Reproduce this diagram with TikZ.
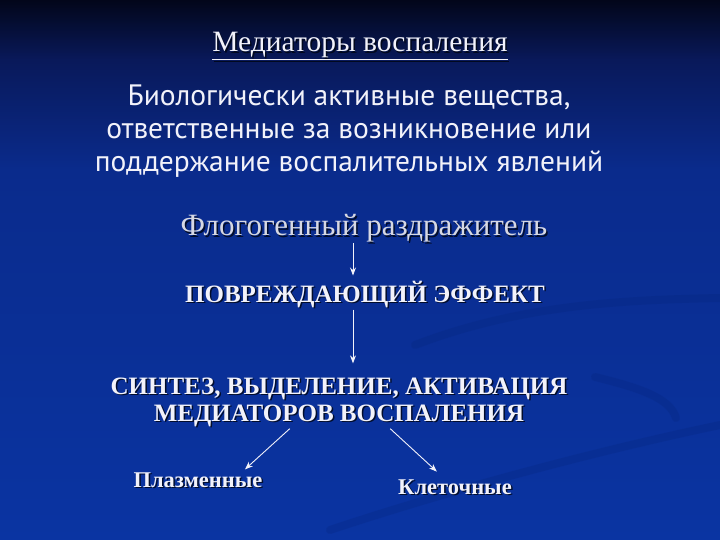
\documentclass[tikz,border=0pt]{standalone}
\usepackage{fontspec}
\setmainfont{Liberation Serif}
\newfontfamily\bodyfont{PT Sans}
\usetikzlibrary{arrows.meta}
\definecolor{bgtop}{HTML}{02061A}
\definecolor{bgup}{HTML}{09195A}
\definecolor{bgmid}{HTML}{0A2B8C}
\definecolor{bgbot}{HTML}{0A34A2}
\definecolor{swoosh}{HTML}{06247A}
\definecolor{txt}{HTML}{F2F2FA}
\definecolor{soft}{HTML}{D6D8E4}
\definecolor{shade}{HTML}{000512}
\tikzset{
  head/.style={text=txt, inner sep=0pt, font=\fontsize{29.5}{32}\selectfont},
  body/.style={text=txt, inner sep=0pt, align=center, font=\bodyfont\fontsize{29.5}{33}\selectfont},
  flogo/.style={text=soft, inner sep=0pt, font=\fontsize{31}{34}\selectfont},
  caps/.style={text=txt, inner sep=0pt, align=center, font=\bfseries\fontsize{25}{27}\selectfont},
  kind/.style={text=txt, inner sep=0pt, font=\bfseries\fontsize{22.5}{24}\selectfont},
  shad/.style={text=shade, opacity=0.8, shift={(1.5,1.5)}},
  arr/.style={draw=txt, line width=0.9pt, -{Stealth[length=8pt,width=6pt]}},
  band/.style={draw=swoosh, line width=8pt, line cap=round, opacity=0.25},
}

\begin{document}
\begin{tikzpicture}[x=1pt,y=-1pt]
  % background
  \useasboundingbox (0,0) rectangle (720,540);
  \shade[top color=bgtop, bottom color=bgup] (0,0) rectangle (720,60);
  \shade[top color=bgup, bottom color=bgmid] (0,60) rectangle (720,170);
  \shade[top color=bgmid, bottom color=bgbot] (0,170) rectangle (720,540);
  \draw[band] (415,345) .. controls (520,305) and (620,300) .. (720,298);
  \draw[band] (595,377) .. controls (640,388) and (670,398) .. (676,418);
  \draw[band] (330,530) .. controls (450,490) and (600,450) .. (720,425);

  % texts
  \node[head, shad, anchor=base] at (360,52) {\underline{Медиаторы воспаления}};
  \node[head, anchor=base] (title) at (360,52) {\underline{Медиаторы воспаления}};
  \node[body] (bio) at (349,131) {Биологически активные вещества,\\
    ответственные за возникновение или\\поддержание воспалительных явлений};
  \node[flogo, shad, anchor=base] at (364,236) {Флогогенный раздражитель};
  \node[flogo, anchor=base] (flog) at (364,236) {Флогогенный раздражитель};
  \node[caps, shad, anchor=base] at (365,302) {ПОВРЕЖДАЮЩИЙ ЭФФЕКТ};
  \node[caps, anchor=base] (dmg) at (365,302) {ПОВРЕЖДАЮЩИЙ ЭФФЕКТ};
  \node[caps, shad] at (339,402) {СИНТЕЗ, ВЫДЕЛЕНИЕ, АКТИВАЦИЯ\\МЕДИАТОРОВ ВОСПАЛЕНИЯ};
  \node[caps] (syn) at (339,402) {СИНТЕЗ, ВЫДЕЛЕНИЕ, АКТИВАЦИЯ\\МЕДИАТОРОВ ВОСПАЛЕНИЯ};
  \node[kind, shad, anchor=base] at (198,487) {Плазменные};
  \node[kind, anchor=base] (plasma) at (198,487) {Плазменные};
  \node[kind, shad, anchor=base] at (455,494) {Клеточные};
  \node[kind, anchor=base] (cell) at (455,494) {Клеточные};

  % arrows
  \coordinate (axis) at (353,0);
  \draw[arr, shorten >=5pt] (flog.south -| axis) -- (dmg.north -| axis);
  \draw[arr, shorten <=2pt, shorten >=14pt] (dmg.south -| axis) -- (syn.north -| axis);
  \draw[arr, shorten <=3pt, shorten >=4pt] ([xshift=-47pt]syn.south) -- ([xshift=44pt]plasma.north);
  \draw[arr, shorten <=3pt, shorten >=11pt] ([xshift=49pt]syn.south) -- ([xshift=-10pt]cell.north);
\end{tikzpicture}
\end{document}
